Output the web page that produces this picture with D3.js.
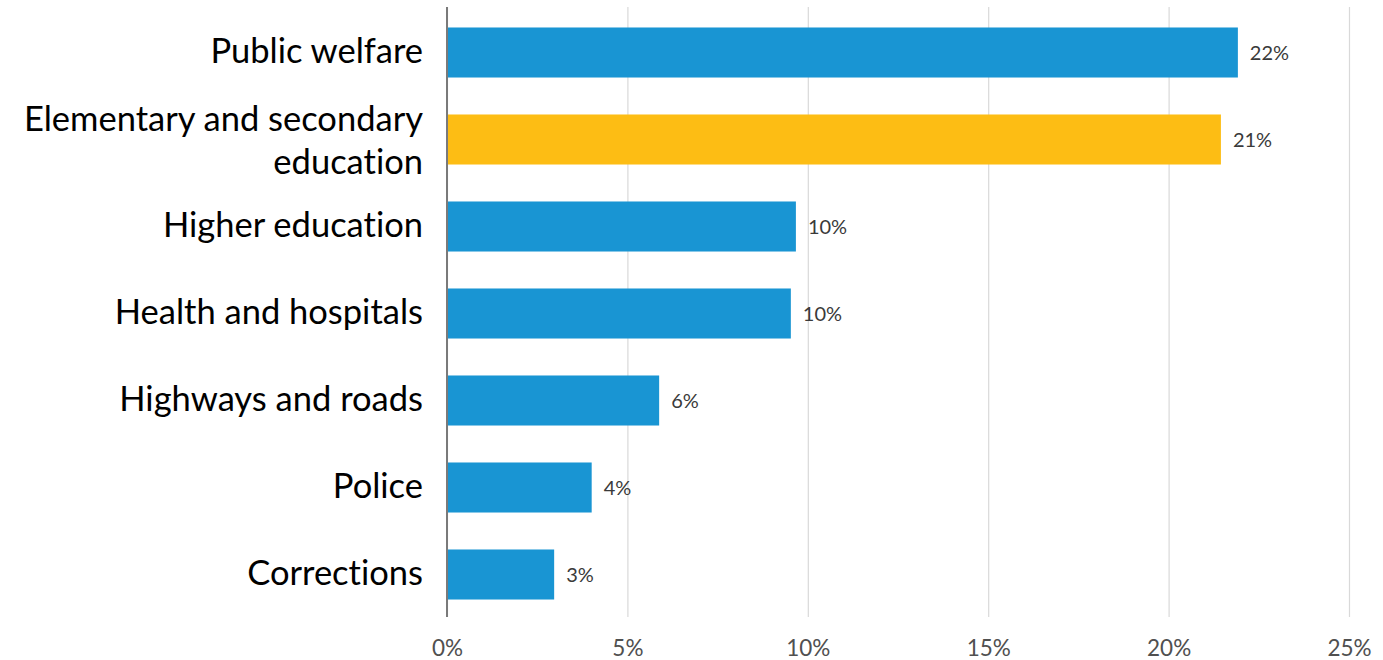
<!DOCTYPE html>
<html>
<head>
<meta charset="utf-8">
<script src="https://cdn.jsdelivr.net/npm/d3@7"></script>
<style>
  html, body { margin: 0; padding: 0; background: #ffffff; }
  svg { display: block; }
  text { font-variant-ligatures: none; font-feature-settings: "liga" 0; }
</style>
</head>
<body>
<svg id="chart" width="1383" height="660"></svg>
<script>
// Share of state spending by function
const categories = [
  "Public welfare",
  "Elementary and secondary education",
  "Higher education",
  "Health and hospitals",
  "Highways and roads",
  "Police",
  "Corrections"
];
const categoryLines = [
  ["Public welfare"],
  ["Elementary and secondary", "education"],
  ["Higher education"],
  ["Health and hospitals"],
  ["Highways and roads"],
  ["Police"],
  ["Corrections"]
];
const shares = [0.2192, 0.2145, 0.0967, 0.0953, 0.0588, 0.0401, 0.0297];
const highlighted = ["Elementary and secondary education"];
const tickValues = [0, 0.05, 0.10, 0.15, 0.20, 0.25];

const svg = d3.select("#chart");

const x = d3.scaleLinear().domain([0, 0.25]).range([447, 1349]);
const y = d3.scaleBand()
  .domain(categories)
  .range([9, 618])
  .paddingInner(0.425)
  .paddingOuter(0.2125);

const pct = d3.format(".0%");

// vertical gridlines + tick labels
const xAxis = d3.axisBottom(x)
  .tickValues(tickValues)
  .tickFormat(pct)
  .tickSize(-(617 - 7))
  .tickPadding(23);

const gx = svg.append("g")
  .attr("transform", "translate(0,617)")
  .call(xAxis);
gx.select(".domain").remove();
gx.selectAll(".tick line")
  .attr("stroke", "#d9d9d9")
  .attr("stroke-width", 1.2);
gx.selectAll(".tick text")
  .attr("fill", "#505050")
  .attr("font-family", "Lato, sans-serif")
  .attr("font-size", 22.5);

// bars
svg.append("g")
  .selectAll("rect")
  .data(categories)
  .join("rect")
  .attr("x", x(0))
  .attr("y", d => y(d))
  .attr("height", y.bandwidth())
  .attr("width", (d, i) => x(shares[i]) - x(0))
  .attr("fill", d => highlighted.includes(d) ? "#fdbd14" : "#1995d3");

// value labels
svg.append("g")
  .selectAll("text")
  .data(categories)
  .join("text")
  .attr("x", (d, i) => x(shares[i]) + 12)
  .attr("y", d => y(d) + y.bandwidth() / 2)
  .attr("dy", "0.36em")
  .attr("fill", "#3a3a3a")
  .attr("font-family", "Lato, sans-serif")
  .attr("font-size", 20)
  .text((d, i) => pct(shares[i]));

// baseline axis
svg.append("line")
  .attr("x1", x(0)).attr("x2", x(0))
  .attr("y1", 7).attr("y2", 617)
  .attr("stroke", "#7a7a7a")
  .attr("stroke-width", 2);

// category labels
const labels = svg.append("g")
  .selectAll("text")
  .data(categories)
  .join("text")
  .attr("text-anchor", "end")
  .attr("fill", "#000000")
  .attr("font-family", "Lato, sans-serif")
  .attr("font-size", 34.5);

labels.each(function (d, i) {
  const lines = categoryLines[i];
  const cy = y(d) + y.bandwidth() / 2;
  const t = d3.select(this);
  if (lines.length === 1) {
    t.append("tspan").attr("x", 423).attr("y", cy + 10).text(lines[0]);
  } else {
    t.append("tspan").attr("x", 423).attr("y", cy - 9).text(lines[0]);
    t.append("tspan").attr("x", 423).attr("y", cy + 34).text(lines[1]);
  }
});
</script>
</body>
</html>
